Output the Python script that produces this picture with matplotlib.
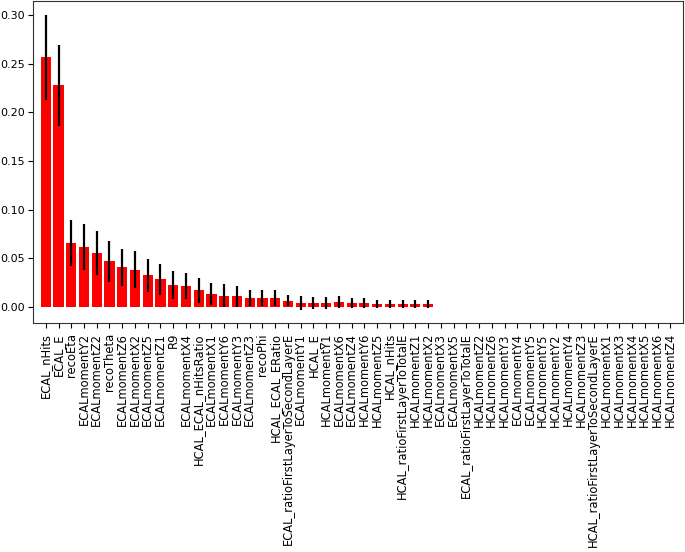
import matplotlib
matplotlib.use("Agg")
import matplotlib.pyplot as plt
import numpy as np

features = [
    "ECAL_nHits", "ECAL_E", "recoEta", "ECALmomentY2", "ECALmomentZ2", "recoTheta",
    "ECALmomentZ6", "ECALmomentX2", "ECALmomentZ5", "ECALmomentZ1", "R9", "ECALmomentX4",
    "HCAL_ECAL_nHitsRatio", "ECALmomentX1", "ECALmomentY6", "ECALmomentY3", "ECALmomentZ3",
    "recoPhi", "HCAL_ECAL_ERatio", "ECAL_ratioFirstLayerToSecondLayerE", "ECALmomentY1",
    "HCAL_E", "HCALmomentY1", "ECALmomentX6", "ECALmomentZ4", "HCALmomentY6", "HCALmomentZ5",
    "HCAL_nHits", "HCAL_ratioFirstLayerToTotalE", "HCALmomentZ1", "HCALmomentX2",
    "ECALmomentX3", "ECALmomentX5", "ECAL_ratioFirstLayerToTotalE", "HCALmomentZ2",
    "HCALmomentZ6", "HCALmomentY3", "ECALmomentY4", "ECALmomentY5", "HCALmomentY5",
    "HCALmomentY2", "HCALmomentY4", "HCALmomentZ3", "HCAL_ratioFirstLayerToSecondLayerE",
    "HCALmomentX1", "HCALmomentX3", "HCALmomentX4", "HCALmomentX5", "HCALmomentX6",
    "HCALmomentZ4",
]

importances = [
    0.2565, 0.2277, 0.0655, 0.0614, 0.0552, 0.0466, 0.0408, 0.0380, 0.0322, 0.0281,
    0.0219, 0.0213, 0.0168, 0.0130, 0.0113, 0.0106, 0.0089, 0.0089, 0.0089, 0.0062,
    0.0036, 0.0036, 0.0036, 0.0045, 0.0038, 0.0038, 0.0030, 0.0030, 0.0030, 0.0030,
    0.0030, 0, 0, 0, 0, 0, 0, 0, 0, 0,
    0, 0, 0, 0, 0, 0, 0, 0, 0, 0,
]

errors = [
    0.0435, 0.0415, 0.0240, 0.0240, 0.0223, 0.0210, 0.0190, 0.0190, 0.0170, 0.0160,
    0.0144, 0.0134, 0.0127, 0.0113, 0.0117, 0.0110, 0.0086, 0.0086, 0.0086, 0.0055,
    0.0075, 0.0060, 0.0060, 0.0062, 0.0050, 0.0050, 0.0040, 0.0040, 0.0040, 0.0040,
    0.0040, 0, 0, 0, 0, 0, 0, 0, 0, 0,
    0, 0, 0, 0, 0, 0, 0, 0, 0, 0,
]

plt.rcParams["font.family"] = "DejaVu Sans"
plt.rcParams["font.size"] = 8.3

fig = plt.figure(figsize=(6.85, 5.52), dpi=100)
ax = fig.add_axes([0.0482, 0.4143, 0.9489, 0.5837])

x = np.arange(len(features))
ax.bar(x, importances, width=0.8, color="red", yerr=errors, align="center",
       error_kw=dict(ecolor="black", elinewidth=1.6, capsize=0))
ax.set_xticks(x)
ax.set_xticklabels(features, rotation=90)
ax.set_xlim(-1, len(features))
ax.set_ylim(-0.0171, 0.3145)
ax.set_yticks([0.0, 0.05, 0.10, 0.15, 0.20, 0.25, 0.30])
ax.set_yticklabels(["0.00", "0.05", "0.10", "0.15", "0.20", "0.25", "0.30"])
ax.tick_params(axis="y", pad=2.5, labelsize=8)
for s in ax.spines.values():
    s.set_color("#333333")

fig.savefig("out.png", dpi=100)
